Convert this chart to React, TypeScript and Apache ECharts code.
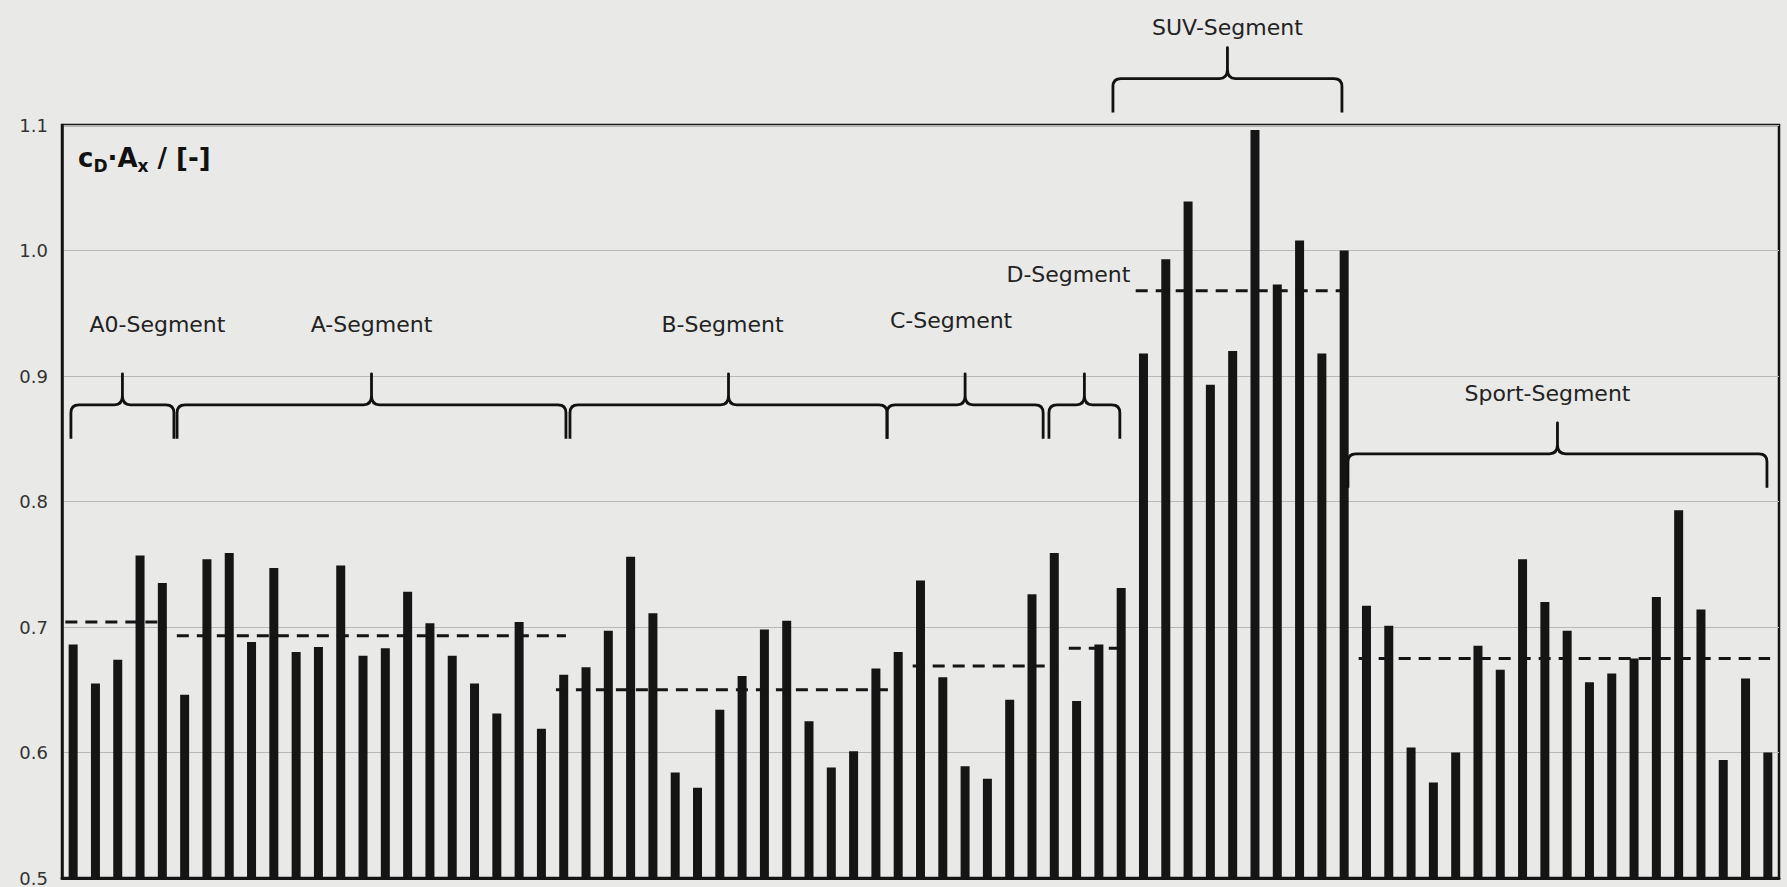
import React, { useEffect, useRef } from "react";
import * as echarts from "echarts";

// Vehicles, numbered left to right
const vehicles: string[] = [
  "1", "2", "3", "4", "5", "6", "7", "8", "9", "10",
  "11", "12", "13", "14", "15", "16", "17", "18", "19", "20",
  "21", "22", "23", "24", "25", "26", "27", "28", "29", "30",
  "31", "32", "33", "34", "35", "36", "37", "38", "39", "40",
  "41", "42", "43", "44", "45", "46", "47", "48", "49", "50",
  "51", "52", "53", "54", "55", "56", "57", "58", "59", "60",
  "61", "62", "63", "64", "65", "66", "67", "68", "69", "70",
  "71", "72", "73", "74", "75", "76", "77",
];

// Drag area cD·Ax per vehicle
const cdAx: number[] = [
  0.686, 0.655, 0.674, 0.757, 0.735,
  0.646, 0.754, 0.759, 0.688, 0.747, 0.680, 0.684, 0.749, 0.677, 0.683,
  0.728, 0.703, 0.677, 0.655, 0.631, 0.704, 0.619, 0.662,
  0.668, 0.697, 0.756, 0.711, 0.584, 0.572, 0.634, 0.661, 0.698, 0.705,
  0.625, 0.588, 0.601, 0.667, 0.680,
  0.737, 0.660, 0.589, 0.579, 0.642, 0.726, 0.759,
  0.641, 0.686, 0.731,
  0.918, 0.993, 1.039, 0.893, 0.920, 1.096, 0.973, 1.008, 0.918, 1.000,
  0.717, 0.701, 0.604, 0.576, 0.600, 0.685, 0.666, 0.754, 0.720, 0.697,
  0.656, 0.663, 0.675, 0.724, 0.793, 0.714, 0.594, 0.659, 0.600,
];

// Segments: name, first/last vehicle index, segment mean
const segmentNames: string[] = [
  "A0-Segment", "A-Segment", "B-Segment", "C-Segment", "D-Segment", "SUV-Segment", "Sport-Segment",
];
const segmentFirst: number[] = [0, 5, 22, 38, 45, 48, 58];
const segmentLast: number[] = [4, 22, 37, 44, 47, 57, 76];
const segmentMeans: number[] = [0.704, 0.693, 0.65, 0.669, 0.683, 0.968, 0.675];

// Axis ticks
const yMin = 0.5;
const yMax = 1.1;
const yStep = 0.1;

// Brace placement: [left, right] in vehicle-index units, brace level and label height in axis units, label shift in px
const braceLayout: { left: number; right: number; level: number; labelY: number; dx: number }[] = [
  { left: -0.1, right: 4.52, level: 0.877, labelY: 0.941, dx: 35 },
  { left: 4.66, right: 22.1, level: 0.877, labelY: 0.941, dx: 0 },
  { left: 22.28, right: 36.5, level: 0.877, labelY: 0.941, dx: -6 },
  { left: 36.5, right: 43.5, level: 0.877, labelY: 0.944, dx: -14 },
  { left: 43.76, right: 46.94, level: 0.877, labelY: 0.981, dx: -16 },
  { left: 46.63, right: 56.9, level: 1.137, labelY: 1.178, dx: 0 },
  { left: 57.17, right: 75.96, level: 0.838, labelY: 0.886, dx: -10 },
];

const FONT = "DejaVu Sans";
const INK = "#151515";
const BG = "#e9e9e7";

export default function App() {
  const ref = useRef<HTMLDivElement>(null);

  useEffect(() => {
    if (!ref.current) return;
    const chart = echarts.init(ref.current, undefined, { renderer: "svg" });

    const meanData = segmentMeans.map((m, i) => [segmentFirst[i], segmentLast[i], m]);
    const braceData = braceLayout.map((b, i) => [b.left, b.right, b.level, b.labelY, b.dx, i]);

    chart.setOption({
      animation: false,
      backgroundColor: BG,
      grid: {
        left: 62,
        right: 8,
        top: 125,
        bottom: 9,
        show: true,
        borderColor: INK,
        borderWidth: 2.5,
        backgroundColor: "transparent",
      },
      xAxis: [
        {
          type: "category",
          data: vehicles,
          axisLine: { show: true, onZero: false, lineStyle: { color: INK, width: 3 } },
          axisTick: { show: false },
          axisLabel: { show: false },
          splitLine: { show: false },
        },
        {
          type: "value",
          min: -0.5,
          max: vehicles.length - 0.5,
          show: false,
          axisLine: { onZero: false },
          splitLine: { show: false },
        },
      ],
      yAxis: {
        type: "value",
        min: yMin,
        max: yMax,
        interval: yStep,
        axisLine: { show: true, onZero: false, lineStyle: { color: INK, width: 2.5 } },
        axisTick: { show: false },
        axisLabel: {
          formatter: (v: number) => v.toFixed(1),
          fontSize: 18,
          fontFamily: FONT,
          color: "#333",
          margin: 14,
        },
        splitLine: { show: true, lineStyle: { color: "#b8b8b6", width: 1 } },
      },
      graphic: [
        {
          type: "text",
          left: 78,
          top: 145,
          style: {
            text: "{m|c}{s|D}{m|·A}{s|x}{m| / [-]}",
            rich: {
              m: {
                fontSize: 26,
                fontWeight: "bold",
                fontFamily: FONT,
                fill: "#111",
                verticalAlign: "top",
                lineHeight: 30,
              },
              s: {
                fontSize: 17,
                fontWeight: "bold",
                fontFamily: FONT,
                fill: "#111",
                verticalAlign: "top",
                lineHeight: 19,
                padding: [12, 0, 0, 0],
              },
            },
          },
        },
      ],
      series: [
        {
          type: "bar",
          data: cdAx,
          barWidth: 9,
          itemStyle: { color: INK },
          silent: true,
        },
        {
          type: "custom",
          xAxisIndex: 1,
          data: meanData,
          encode: { x: [0, 1], y: 2 },
          silent: true,
          renderItem: (params: any, api: any) => {
            const a = api.coord([api.value(0) - 0.35, api.value(2)]);
            const b = api.coord([api.value(1) + 0.1, api.value(2)]);
            return {
              type: "line",
              shape: { x1: a[0], y1: a[1], x2: b[0], y2: b[1] },
              style: { stroke: INK, lineWidth: 3, lineDash: [12, 8], fill: null },
            };
          },
          z: 5,
        },
        {
          type: "custom",
          xAxisIndex: 1,
          data: braceData,
          encode: { x: [0, 1], y: [2, 3] },
          silent: true,
          clip: false,
          renderItem: (params: any, api: any) => {
            const L = api.coord([api.value(0), api.value(2)]);
            const R = api.coord([api.value(1), api.value(2)]);
            const labelPt = api.coord([api.value(0), api.value(3)]);
            const y = L[1];
            const x0 = L[0];
            const x1 = R[0];
            const xm = (x0 + x1) / 2;
            const hook = 34;
            const tip = 31;
            const r = 8;
            const d =
              `M${x0},${y + hook} L${x0},${y + r} Q${x0},${y} ${x0 + r},${y} ` +
              `L${xm - r},${y} Q${xm},${y} ${xm},${y - 9} L${xm},${y - tip} ` +
              `L${xm},${y - 9} Q${xm},${y} ${xm + r},${y} ` +
              `L${x1 - r},${y} Q${x1},${y} ${x1},${y + r} L${x1},${y + hook}`;
            const idx = api.value(5);
            return {
              type: "group",
              children: [
                {
                  type: "path",
                  shape: { pathData: d },
                  style: { stroke: "#111", lineWidth: 2.8, fill: "none", lineJoin: "round" },
                },
                {
                  type: "text",
                  x: xm + api.value(4),
                  y: labelPt[1],
                  style: {
                    text: segmentNames[idx],
                    fontSize: 22,
                    fontFamily: FONT,
                    fill: "#222",
                    align: "center",
                    verticalAlign: "middle",
                  },
                },
              ],
            };
          },
          z: 6,
        },
      ],
    });

    return () => {
      chart.dispose();
    };
  }, []);

  return (
    <div
      ref={ref}
      style={{
        position: "fixed",
        left: 0,
        top: 0,
        width: "1787px",
        height: "887px",
        background: BG,
      }}
    />
  );
}
